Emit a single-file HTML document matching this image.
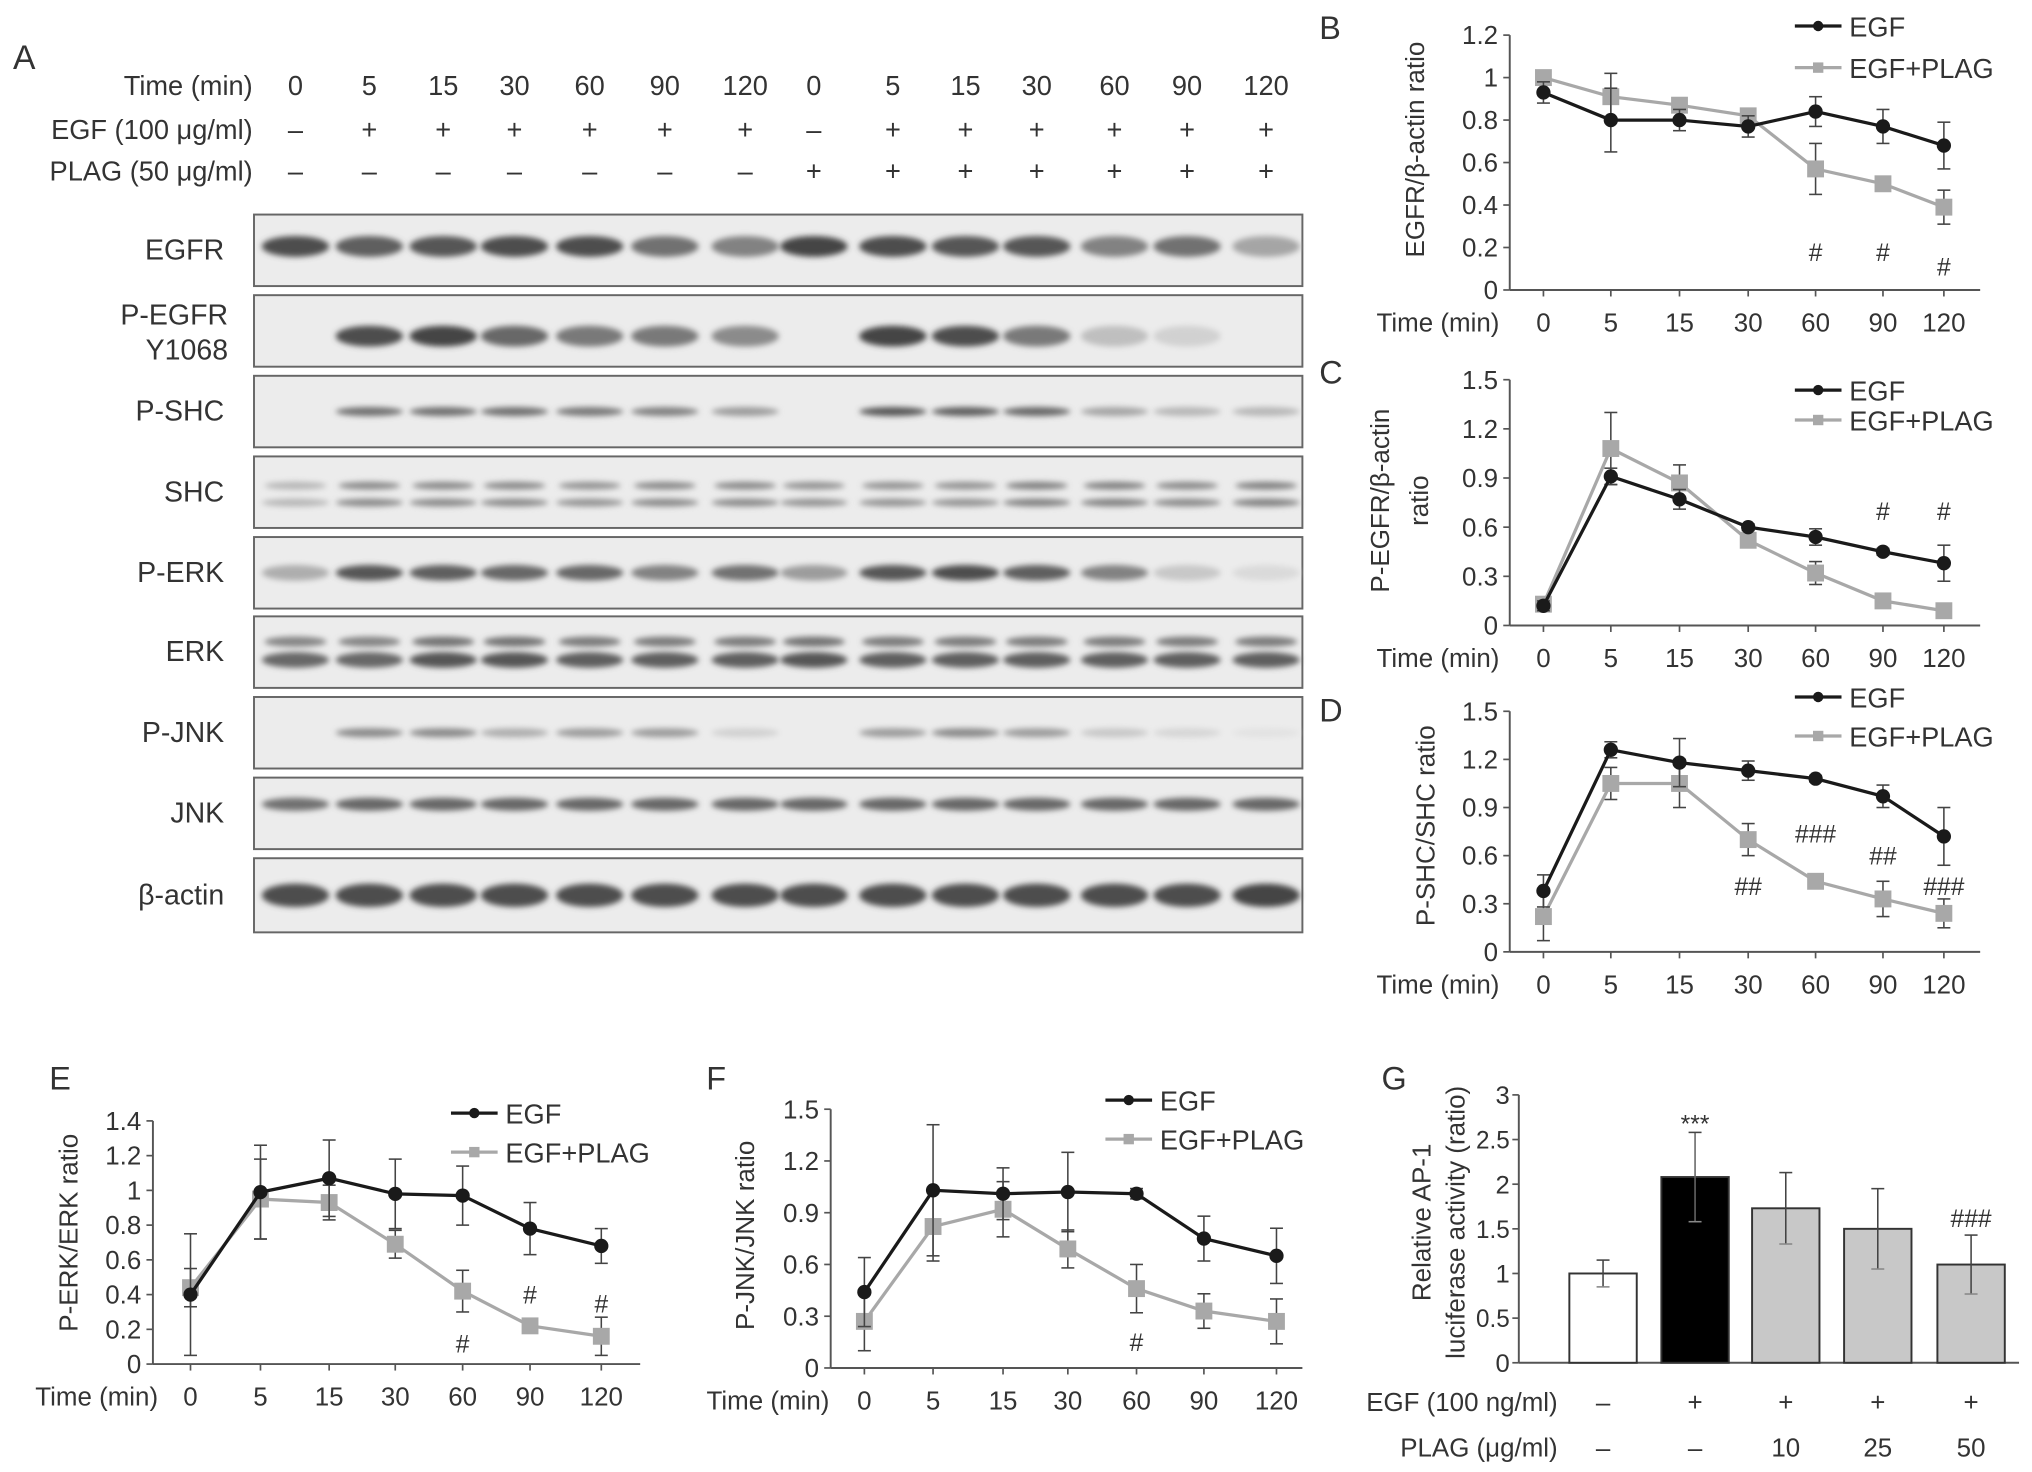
<!DOCTYPE html>
<html><head><meta charset="utf-8"><style>
html,body{margin:0;padding:0;background:#fff;}
svg{display:block;font-family:"Liberation Sans",sans-serif;}
text{fill:#333;}
</style></head><body>
<svg id="fig" width="2032" height="1472" viewBox="0 0 1568 1132" preserveAspectRatio="none" xmlns="http://www.w3.org/2000/svg">
<defs><filter id="blur" x="-50%" y="-100%" width="200%" height="300%"><feGaussianBlur stdDeviation="2.2"/></filter></defs>
<g id="panelA"></g>
<g id="charts"></g>
</svg>
<script>
const NS='http://www.w3.org/2000/svg';
const svg=document.getElementById('fig');
function el(tag,attrs,parent,txt){const e=document.createElementNS(NS,tag);for(const k in attrs)e.setAttribute(k,attrs[k]);if(txt!==undefined)e.textContent=txt;(parent||svg).appendChild(e);return e;}

// ---------- Panel A data ----------
const laneTimes=['0','5','15','30','60','90','120','0','5','15','30','60','90','120'];
const laneEGF=['–','+','+','+','+','+','+','–','+','+','+','+','+','+'];
const lanePLAG=['–','–','–','–','–','–','–','+','+','+','+','+','+','+'];
const blotNames=['EGFR','P-EGFR','P-SHC','SHC','P-ERK','ERK','P-JNK','JNK','β-actin'];
const intEGFR=[0.9,0.8,0.85,0.9,0.9,0.7,0.6,0.95,0.9,0.85,0.85,0.6,0.7,0.4];
const intPEGFR=[0,0.9,0.95,0.75,0.65,0.65,0.55,0,0.95,0.9,0.65,0.25,0.15,0];
const intPSHC=[0,0.7,0.7,0.7,0.65,0.6,0.45,0,0.85,0.8,0.75,0.4,0.3,0.3];
const intSHC=[0.3,0.55,0.55,0.55,0.5,0.55,0.55,0.5,0.5,0.5,0.6,0.6,0.55,0.6];
const intPERK=[0.35,0.85,0.8,0.75,0.75,0.6,0.7,0.45,0.85,0.9,0.8,0.6,0.2,0.1];
const intERK=[0.75,0.75,0.85,0.85,0.8,0.8,0.8,0.85,0.8,0.8,0.8,0.8,0.8,0.8];
const intPJNK=[0,0.55,0.55,0.35,0.45,0.45,0.15,0,0.45,0.55,0.45,0.2,0.12,0.05];
const intJNK=[0.7,0.75,0.75,0.75,0.75,0.75,0.75,0.75,0.75,0.75,0.75,0.75,0.75,0.75];
const intACT=[0.9,0.9,0.9,0.9,0.9,0.9,0.9,0.9,0.9,0.9,0.9,0.9,0.9,0.95];
const blotInt=[intEGFR,intPEGFR,intPSHC,intSHC,intPERK,intERK,intPJNK,intJNK,intACT];

const A=document.getElementById('panelA');
const laneX=[228,285,342,397,455,513,575,628,689,745,800,860,916,977];
el('text',{x:10,y:53,'font-size':26,},A,'A');
el('text',{x:195,y:73,'font-size':21,'text-anchor':'end',},A,'Time (min)');
el('text',{x:195,y:107,'font-size':21,'text-anchor':'end',},A,'EGF (100 μg/ml)');
el('text',{x:195,y:139,'font-size':21,'text-anchor':'end',},A,'PLAG (50 μg/ml)');
laneTimes.forEach((t,i)=>{
  el('text',{x:laneX[i],y:73,'font-size':21,'text-anchor':'middle',},A,t);
  el('text',{x:laneX[i],y:107,'font-size':21,'text-anchor':'middle',},A,laneEGF[i]);
  el('text',{x:laneX[i],y:139,'font-size':21,'text-anchor':'middle',},A,lanePLAG[i]);
});
const rowTop=[165,227,289,351,413,474,536,598,660];
const rowH=[55,55,55,55,55,55,55,55,57];
blotNames.forEach((n,r)=>{
  const g=el('g',{},A);
  el('rect',{x:196,y:rowTop[r],width:809,height:rowH[r],fill:'#ececec',stroke:'#666','stroke-width':1.5},g);
  const cy=rowTop[r]+rowH[r]/2;
  if(n==='P-EGFR'){
    el('text',{x:176,y:cy-5,'font-size':22,'text-anchor':'end'},g,'P-EGFR');
    el('text',{x:176,y:cy+22,'font-size':22,'text-anchor':'end'},g,'Y1068');
  } else el('text',{x:173,y:cy+7,'font-size':22,'text-anchor':'end'},g,n);
  blotInt[r].forEach((v,i)=>{
    if(v<=0)return;
    const c=Math.round(235-175*v);
    const col='rgb('+c+','+c+','+c+')';
    let by=cy, ry=6;
    if(n==='EGFR'){ry=8;by=cy-3;}
    if(n==='P-EGFR'){ry=8;by=cy+4;}
    if(n==='P-SHC'){ry=3.5;}
    if(n==='β-actin'){ry=9;}
    if(n==='JNK'){ry=5;by=cy-7;}
    if(n==='SHC'){ry=3;el('ellipse',{cx:laneX[i],cy:cy-5,rx:24,ry:3,fill:col,filter:'url(#blur)'},g);by=cy+8;}
    if(n==='ERK'){ry=6;el('ellipse',{cx:laneX[i],cy:cy-8,rx:24,ry:4,fill:'rgb('+(c+30)+','+(c+30)+','+(c+30)+')',filter:'url(#blur)'},g);by=cy+6;}
    if(n==='P-JNK'){ry=3.5;}
    const b=el('ellipse',{cx:laneX[i],cy:by,rx:26,ry:ry,fill:col,filter:'url(#blur)'},g);
    
    
  });
});

// ---------- Line charts data ----------
const timeLabels=['0','5','15','30','60','90','120'];
const bEGF=[0.93,0.80,0.80,0.77,0.84,0.77,0.68];
const bEGFerr=[0.05,0.15,0.05,0.05,0.07,0.08,0.11];
const bPLAG=[1.00,0.91,0.87,0.82,0.57,0.50,0.39];
const bPLAGerr=[0.03,0.11,0.03,0.03,0.12,0.02,0.08];
const bTicks=['0','0.2','0.4','0.6','0.8','1','1.2'];
const bMarks=[['#',4,0.18],['#',5,0.18],['#',6,0.11]];

const cEGF=[0.12,0.91,0.77,0.60,0.54,0.45,0.38];
const cEGFerr=[0.03,0.05,0.06,0.02,0.05,0.02,0.11];
const cPLAG=[0.13,1.08,0.87,0.52,0.32,0.15,0.09];
const cPLAGerr=[0.03,0.22,0.11,0.03,0.07,0.02,0.03];
const cTicks=['0','0.3','0.6','0.9','1.2','1.5'];
const cMarks=[['#',5,0.7],['#',6,0.7]];

const dEGF=[0.38,1.26,1.18,1.13,1.08,0.97,0.72];
const dEGFerr=[0.10,0.05,0.15,0.06,0.02,0.07,0.18];
const dPLAG=[0.22,1.05,1.05,0.70,0.44,0.33,0.24];
const dPLAGerr=[0.15,0.10,0.15,0.10,0.02,0.11,0.09];
const dTicks=['0','0.3','0.6','0.9','1.2','1.5'];
const dMarks=[['##',3,0.41],['###',4,0.74],['##',5,0.6],['###',6,0.41]];

const eEGF=[0.40,0.99,1.07,0.98,0.97,0.78,0.68];
const eEGFerr=[0.35,0.27,0.22,0.20,0.17,0.15,0.10];
const ePLAG=[0.44,0.95,0.93,0.69,0.42,0.22,0.16];
const ePLAGerr=[0.11,0.23,0.10,0.08,0.12,0.03,0.11];
const eTicks=['0','0.2','0.4','0.6','0.8','1','1.2','1.4'];
const eMarks=[['#',4,0.12],['#',5,0.40],['#',6,0.35]];

const fEGF=[0.44,1.03,1.01,1.02,1.01,0.75,0.65];
const fEGFerr=[0.20,0.38,0.15,0.23,0.03,0.13,0.16];
const fPLAG=[0.27,0.82,0.92,0.69,0.46,0.33,0.27];
const fPLAGerr=[0.17,0.20,0.16,0.11,0.14,0.10,0.13];
const fTicks=['0','0.3','0.6','0.9','1.2','1.5'];
const fMarks=[['#',4,0.15]];

function lineChart(o){
  const g=el('g',{});
  const ymax=parseFloat(o.ticks[o.ticks.length-1]);
  const ys=v=>o.y0-(v/ymax)*(o.y0-o.ytop);
  const xs=i=>o.xs[i];
  el('text',{x:o.lx,y:o.ly,'font-size':25,},g,o.letter);
  el('line',{x1:o.ax,y1:o.ytop,x2:o.ax,y2:o.y0,stroke:'#555','stroke-width':1.5},g);
  el('line',{x1:o.ax,y1:o.y0,x2:o.xend,y2:o.y0,stroke:'#555','stroke-width':1.5},g);
  o.ticks.forEach(t=>{const y=ys(parseFloat(t));
    el('line',{x1:o.ax-5,y1:y,x2:o.ax,y2:y,stroke:'#555','stroke-width':1.3},g);
    const tl=el('text',{x:o.ax-9,y:y+7,'font-size':20,'text-anchor':'end'},g,t);
    
    
  });
  timeLabels.forEach((t,i)=>{
    el('line',{x1:xs(i),y1:o.y0,x2:xs(i),y2:o.y0+5,stroke:'#555','stroke-width':1.3},g);
    const tl=el('text',{x:xs(i),y:o.y0+32,'font-size':20,'text-anchor':'middle'},g,t);
    
    
  });
  el('text',{x:o.timeX,y:o.y0+32,'font-size':20,'text-anchor':'end',},g,'Time (min)');
  o.ylab.forEach((s,k)=>{
    const x=o.ylx+k*30;
    el('text',{x:x,y:o.yly,'font-size':20,'text-anchor':'middle',transform:'rotate(-90 '+x+' '+o.yly+')',},g,s);
  });
  [[o.s2,o.e2,'#a8a8a8','sq','egf-plag-series'],[o.s1,o.e1,'#1a1a1a','dot','egf-series']].forEach(([s,e,c,m,nm])=>{
    const sg=el('g',{},g);
    s.forEach((v,i)=>{
      const x=xs(i);
      el('line',{x1:x,y1:ys(v+e[i]),x2:x,y2:ys(v-e[i]),stroke:'#444','stroke-width':1.2},sg);
      el('line',{x1:x-5,y1:ys(v+e[i]),x2:x+5,y2:ys(v+e[i]),stroke:'#444','stroke-width':1.2},sg);
      el('line',{x1:x-5,y1:ys(v-e[i]),x2:x+5,y2:ys(v-e[i]),stroke:'#444','stroke-width':1.2},sg);
    });
    el('polyline',{points:s.map((v,i)=>xs(i)+','+ys(v)).join(' '),fill:'none',stroke:c,'stroke-width':2.5},sg);
    s.forEach((v,i)=>{
      let mk;
      if(m==='dot') mk=el('circle',{cx:xs(i),cy:ys(v),r:5.5,fill:c},sg);
      else mk=el('rect',{x:xs(i)-6.5,y:ys(v)-6.5,width:13,height:13,fill:c},sg);
      
      
    });
  });
  o.marks.forEach(([t,i,v])=>{
    const a=el('text',{x:xs(i),y:ys(v)+7,'font-size':19,'text-anchor':'middle'},g,t);
    
    
  });
  const lg=el('g',{},g);
  el('line',{x1:o.legX,y1:o.legY1,x2:o.legX+36,y2:o.legY1,stroke:'#1a1a1a','stroke-width':2.5},lg);
  el('circle',{cx:o.legX+18,cy:o.legY1,r:4,fill:'#1a1a1a'},lg);
  el('text',{x:o.legX+42,y:o.legY1+8,'font-size':21},lg,'EGF');
  el('line',{x1:o.legX,y1:o.legY2,x2:o.legX+36,y2:o.legY2,stroke:'#a8a8a8','stroke-width':2.5},lg);
  el('rect',{x:o.legX+14,y:o.legY2-4,width:8,height:8,fill:'#a8a8a8'},lg);
  el('text',{x:o.legX+42,y:o.legY2+8,'font-size':21},lg,'EGF+PLAG');
}
const xsR=[1191,1243,1296,1349,1401,1453,1500];
lineChart({name:'chart-b-egfr',letter:'B',lx:1018,ly:30,ax:1165,xend:1528,ytop:27,y0:223,xs:xsR,ticks:bTicks,s1:bEGF,e1:bEGFerr,s2:bPLAG,e2:bPLAGerr,marks:bMarks,timeX:1157,ylab:['EGFR/β-actin ratio'],ylx:1099,yly:115,legX:1385,legY1:20,legY2:52});
lineChart({name:'chart-c-pegfr',letter:'C',lx:1018,ly:295,ax:1165,xend:1528,ytop:292,y0:481,xs:xsR,ticks:cTicks,s1:cEGF,e1:cEGFerr,s2:cPLAG,e2:cPLAGerr,marks:cMarks,timeX:1157,ylab:['P-EGFR/β-actin','ratio'],ylx:1072,yly:385,legX:1385,legY1:300,legY2:323});
lineChart({name:'chart-d-pshc',letter:'D',lx:1018,ly:555,ax:1165,xend:1528,ytop:547,y0:732,xs:xsR,ticks:dTicks,s1:dEGF,e1:dEGFerr,s2:dPLAG,e2:dPLAGerr,marks:dMarks,timeX:1157,ylab:['P-SHC/SHC ratio'],ylx:1107,yly:635,legX:1385,legY1:536,legY2:566});
lineChart({name:'chart-e-perk',letter:'E',lx:38,ly:838,ax:118,xend:494,ytop:862,y0:1049,xs:[147,201,254,305,357,409,464],ticks:eTicks,s1:eEGF,e1:eEGFerr,s2:ePLAG,e2:ePLAGerr,marks:eMarks,timeX:122,ylab:['P-ERK/ERK ratio'],ylx:60,yly:948,legX:348,legY1:856,legY2:886});
lineChart({name:'chart-f-pjnk',letter:'F',lx:545,ly:838,ax:641,xend:1005,ytop:853,y0:1052,xs:[667,720,774,824,877,929,985],ticks:fTicks,s1:fEGF,e1:fEGFerr,s2:fPLAG,e2:fPLAGerr,marks:fMarks,timeX:640,ylab:['P-JNK/JNK ratio'],ylx:582,yly:950,legX:853,legY1:846,legY2:876});

// ---------- Panel G bar chart ----------
const gValues=[1.0,2.08,1.73,1.50,1.10];
const gErr=[0.15,0.50,0.40,0.45,0.33];
const gEGF=['–','+','+','+','+'];
const gPLAG=['–','–','10','25','50'];
const gTicks=['0','0.5','1','1.5','2','2.5','3'];
const gFill=['#ffffff','#000000','#c8c8c8','#c8c8c8','#c8c8c8'];
const gMarks=[['***',1,2.68],['###',4,1.62]];
(function(){
  const g=el('g',{});
  const ax=1172,ytop=842,y0=1048,cx=[1237,1308,1378,1449,1521],bw=52;
  const ys=v=>y0-v/3*(y0-ytop);
  el('text',{x:1066,y:838,'font-size':25,},g,'G');
  el('line',{x1:ax,y1:ytop,x2:ax,y2:y0,stroke:'#555','stroke-width':1.5},g);
  el('line',{x1:ax,y1:y0,x2:1558,y2:y0,stroke:'#555','stroke-width':1.5},g);
  gTicks.forEach(t=>{const y=ys(parseFloat(t));
    el('line',{x1:ax-5,y1:y,x2:ax,y2:y,stroke:'#555','stroke-width':1.3},g);
    const tl=el('text',{x:ax-7,y:y+7,'font-size':19,'text-anchor':'end','textLength':t.length>1?26:11,'lengthAdjust':'spacingAndGlyphs'},g,t);
    
    
  });
  [['Relative AP-1',1104],['luciferase activity (ratio)',1130]].forEach(([s,x])=>{
    el('text',{x:x,y:940,'font-size':20,'text-anchor':'middle',transform:'rotate(-90 '+x+' 940)',},g,s);
  });
  gValues.forEach((v,i)=>{
    const b=el('rect',{x:cx[i]-bw/2,y:ys(v),width:bw,height:y0-ys(v),fill:gFill[i],stroke:'#333','stroke-width':1.5},g);
    
    
    const t=ys(v+gErr[i]),bt=ys(v-gErr[i]);
    el('line',{x1:cx[i],y1:t,x2:cx[i],y2:bt,stroke:i===1?'#666':'#444','stroke-width':1.2},g);
    el('line',{x1:cx[i]-5,y1:t,x2:cx[i]+5,y2:t,stroke:'#444','stroke-width':1.2},g);
    el('line',{x1:cx[i]-5,y1:bt,x2:cx[i]+5,y2:bt,stroke:'#888','stroke-width':1.2},g);
    el('text',{x:cx[i],y:1085,'font-size':20,'text-anchor':'middle'},g,gEGF[i]);
    el('text',{x:cx[i],y:1120,'font-size':20,'text-anchor':'middle'},g,gPLAG[i]);
  });
  gMarks.forEach(([t,i,v])=>{
    const a=el('text',{x:cx[i],y:ys(v)+7,'font-size':19,'text-anchor':'middle'},g,t);
    
    
  });
  el('text',{x:1202,y:1085,'font-size':20,'text-anchor':'end',},g,'EGF (100 ng/ml)');
  el('text',{x:1202,y:1120,'font-size':20,'text-anchor':'end',},g,'PLAG (μg/ml)');
})();
</script>
</body></html>
